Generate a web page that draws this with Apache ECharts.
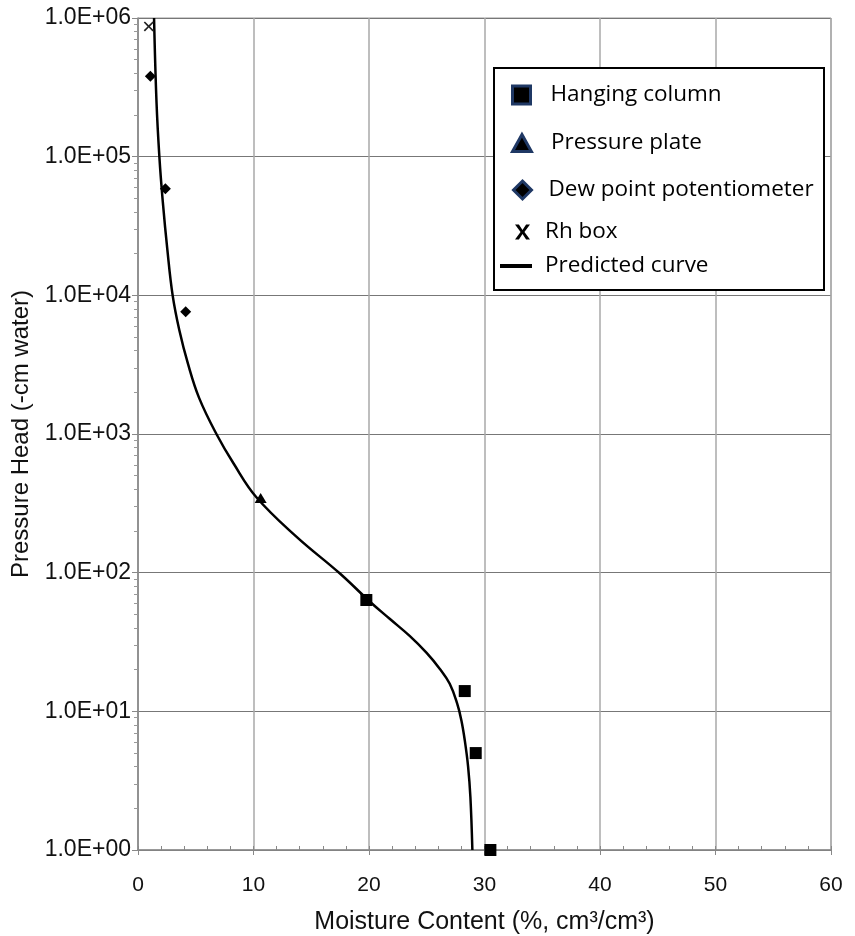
<!DOCTYPE html>
<html style="height: 100%">
<head>
<meta charset="utf-8">
<script src="https://cdn.jsdelivr.net/npm/echarts@6/dist/echarts.min.js"></script>
</head>
<body style="height: 100%; margin: 0; background: #fff">
<div id="container" style="width: 855px; height: 936px"></div>
<script type="text/javascript">
// measured points, [moisture %, pressure head cm]
var hangingColumn = [[19.77, 63.5], [28.29, 14.0], [29.24, 5.0], [30.51, 1.0]];
var pressurePlate = [[10.62, 345]];
var dewPoint = [[1.07, 3.8e5], [2.37, 5.86e4], [4.13, 7.6e3]];
var rhBox = [[0.93, 8.7e5]];
// predicted curve
var predicted = [
    [1.39, 1e6], [1.6, 2.5e5], [1.85, 1e5], [2.14, 4.8e4], [2.55, 2.1e4],
    [3.0, 1e4], [3.58, 5.6e3], [4.33, 3.2e3], [5.28, 1.83e3], [6.79, 1000],
    [8.29, 610], [10.25, 350], [13.71, 182], [17.46, 99],
    [20.06, 62], [21.79, 46.5], [23.52, 35.0], [24.97, 26.5], [26.12, 20.3],
    [26.99, 15.8], [27.63, 11.4], [28.0, 8.6], [28.29, 6.2], [28.58, 4.0],
    [28.78, 2.4], [28.95, 1.0]
];
var yTickLabels = ['1.0E+00', '1.0E+01', '1.0E+02', '1.0E+03', '1.0E+04', '1.0E+05', '1.0E+06'];

// log-spaced minor tick positions (2..9 per decade), in log10 units
var yMinor = [];
for (var d = 0; d < 6; d++) {
    for (var k = 2; k <= 9; k++) yMinor.push(d + Math.log10(k));
}

var xSymbol = 'path://M0,1.2L1.2,0L5,3.8L8.8,0L10,1.2L6.2,5L10,8.8L8.8,10L5,6.2L1.2,10L0,8.8L3.8,5Z';
var xLegendSymbol = 'path://M0,0H2.6L5,3.6L7.4,0H10L6.3,5L10,10H7.4L5,6.4L2.6,10H0L3.7,5Z';
var sqSymbol = 'path://M0,0H10V10H0Z';
var triSymbol = 'path://M5,0L10,9L0,9Z';
var diaSymbol = 'path://M5,0L10,5L5,10L0,5Z';
var barSymbol = 'path://M0,0H32V4H0Z';
var navy = '#1f3864';

var dom = document.getElementById('container');
var myChart = echarts.init(dom);

function oneLegend(name, icon, left, top, w, h, extra) {
    var item = { name: name, icon: icon };
    for (var key in extra) item[key] = extra[key];
    return {
        left: left,
        top: top,
        z: 10,
        orient: 'vertical',
        padding: 0,
        itemWidth: w,
        itemHeight: h,
        selectedMode: false,
        data: [item],
        textStyle: {
            fontFamily: 'Open Sans',
            fontSize: 22.5,
            lineHeight: 26,
            color: '#000'
        }
    };
}

var markStyle = { color: '#000', borderColor: navy, borderWidth: 3 };

var option = {
    backgroundColor: '#fff',
    animation: false,
    grid: {
        left: 138,
        right: 24,
        top: 18,
        bottom: 86,
        outerBoundsMode: 'none',
        show: true,
        borderColor: '#999',
        borderWidth: 1
    },
    graphic: [{
        type: 'rect',
        shape: { x: 494, y: 68, width: 330, height: 222 },
        style: { fill: '#fff', stroke: '#000', lineWidth: 2 },
        z: 5
    }],
    legend: [
        oneLegend('Hanging column', sqSymbol, 511, 82, 48, 18, { itemStyle: markStyle }),
        oneLegend('Pressure plate', triSymbol, 511, 130, 48, 17, { itemStyle: markStyle }),
        oneLegend('Dew point potentiometer', diaSymbol, 512, 177, 42, 18, { itemStyle: markStyle }),
        oneLegend('Rh box', xLegendSymbol, 515, 219, 35, 15, { itemStyle: { color: '#000' } }),
        oneLegend('Predicted curve', barSymbol, 500, 253, 48, 4, { itemStyle: { color: '#000' } })
    ],
    xAxis: [{
        type: 'value',
        min: 0,
        max: 60,
        interval: 10,
        name: 'Moisture Content (%, cm³/cm³)',
        nameLocation: 'middle',
        nameGap: 60,
        nameTextStyle: { fontFamily: 'Liberation Sans', fontSize: 25, color: '#111' },
        axisLine: { lineStyle: { color: '#888', width: 1.5 } },
        axisTick: { show: true, length: 5, lineStyle: { color: '#888' } },
        axisLabel: { fontFamily: 'Liberation Sans', fontSize: 21, color: '#111', margin: 25 },
        splitLine: { show: true, lineStyle: { color: '#a8a8a8', width: 1.5 } }
    }, {
        type: 'value',
        min: 0,
        max: 60,
        interval: 2,
        position: 'bottom',
        axisLine: { show: false },
        axisTick: { show: true, inside: true, length: 4, lineStyle: { color: '#888' } },
        axisLabel: { show: false },
        splitLine: { show: false }
    }],
    yAxis: [{
        type: 'log',
        logBase: 10,
        min: 1,
        max: 1e6,
        interval: 1,
        name: 'Pressure Head (-cm water)',
        nameLocation: 'middle',
        nameGap: 102,
        nameTextStyle: { fontFamily: 'Liberation Sans', fontSize: 24, color: '#111' },
        axisLine: { show: true, lineStyle: { color: '#888', width: 1.5 } },
        axisTick: { show: true, length: 6, lineStyle: { color: '#888' } },
        axisLabel: {
            fontFamily: 'Liberation Sans',
            fontSize: 23,
            color: '#111',
            margin: 7,
            formatter: function (v) {
                return yTickLabels[Math.round(Math.log10(v))];
            }
        },
        splitLine: { show: true, lineStyle: { color: '#777', width: 1.2 } }
    }, {
        type: 'value',
        min: 0,
        max: 6,
        position: 'left',
        offset: 0,
        axisLine: { show: false },
        axisTick: { show: true, length: 4, customValues: yMinor, lineStyle: { color: '#999' } },
        axisLabel: { show: false },
        splitLine: { show: false }
    }],
    series: [{
        name: 'Predicted curve',
        type: 'line',
        data: predicted,
        smooth: 0.4,
        symbol: 'none',
        clip: true,
        lineStyle: { color: '#000', width: 2.5 },
        itemStyle: { color: '#000' },
        z: 3
    }, {
        name: 'Hanging column',
        type: 'scatter',
        data: hangingColumn,
        symbol: sqSymbol,
        symbolSize: 12,
        itemStyle: { color: '#000', opacity: 1 },
        z: 4
    }, {
        name: 'Pressure plate',
        type: 'scatter',
        data: pressurePlate,
        symbol: triSymbol,
        symbolSize: [12, 10],
        itemStyle: { color: '#000', opacity: 1 },
        z: 4
    }, {
        name: 'Dew point potentiometer',
        type: 'scatter',
        data: dewPoint,
        symbol: diaSymbol,
        symbolSize: 11,
        itemStyle: { color: '#000', opacity: 1 },
        z: 4
    }, {
        name: 'Rh box',
        type: 'scatter',
        data: rhBox,
        symbol: xSymbol,
        symbolSize: 10,
        itemStyle: { color: '#222', opacity: 1 },
        z: 4
    }]
};
myChart.setOption(option);
</script>
</body>
</html>
